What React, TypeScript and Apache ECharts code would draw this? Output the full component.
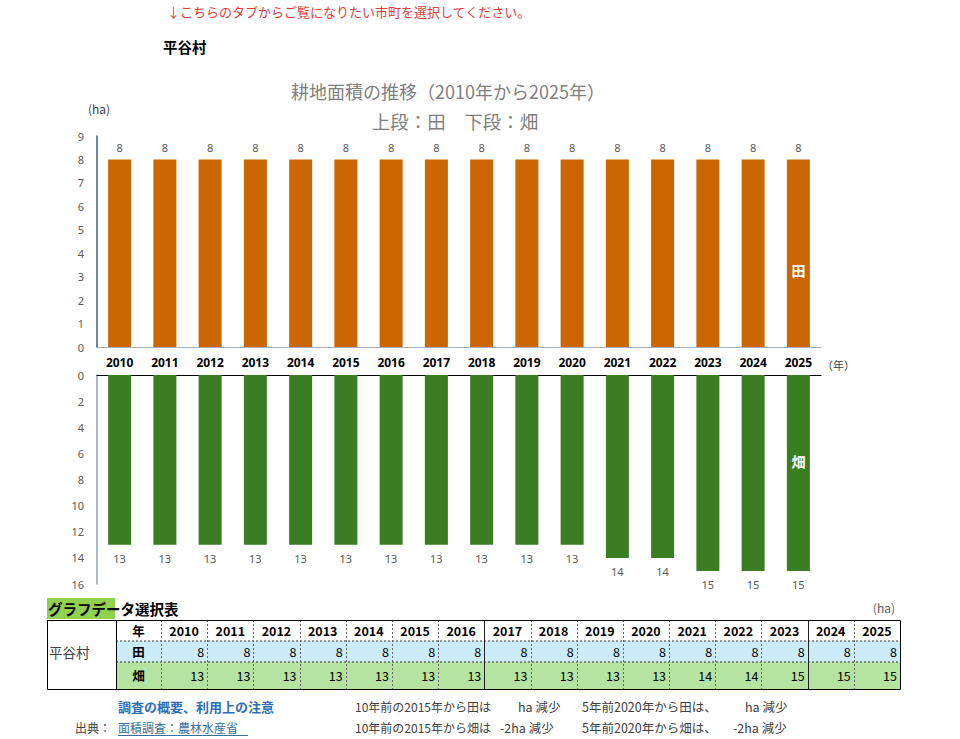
import React, { useEffect, useRef } from 'react';
import * as echarts from 'echarts';

const years = ['2010', '2011', '2012', '2013', '2014', '2015', '2016', '2017', '2018', '2019', '2020', '2021', '2022', '2023', '2024', '2025'];
const paddyHa = [8, 8, 8, 8, 8, 8, 8, 8, 8, 8, 8, 8, 8, 8, 8, 8];
const uplandHa = [13, 13, 13, 13, 13, 13, 13, 13, 13, 13, 13, 14, 14, 15, 15, 15];
const municipality = '平谷村';

const JP = '"Noto Sans CJK JP", "Noto Sans", sans-serif';
const NUM = '"Noto Sans", "Liberation Sans", sans-serif';

function buildTable(): any[] {
  const els: any[] = [];
  const x0 = 47, xLab = 116, xYear = 161, xEnd = 900;
  const rows = [620, 641, 662, 689];
  const cw = (xEnd - xYear) / years.length;
  els.push({ type: 'rect', shape: { x: 47, y: 598, width: 68, height: 21 }, style: { fill: '#92d050' }, silent: true });
  els.push({ type: 'text', x: 48, y: 608, style: { text: 'グラフデータ選択表', font: `bold 14.5px ${JP}`, fill: '#000', verticalAlign: 'middle' } });
  els.push({ type: 'text', x: 895, y: 607, style: { text: '(ha)', font: `12px ${JP}`, fill: '#595959', align: 'right', verticalAlign: 'middle' } });
  els.push({ type: 'rect', shape: { x: xLab, y: rows[1], width: xEnd - xLab, height: rows[2] - rows[1] }, style: { fill: '#ccecfa' }, silent: true });
  els.push({ type: 'rect', shape: { x: xLab, y: rows[2], width: xEnd - xLab, height: rows[3] - rows[2] }, style: { fill: '#b5e3a1' }, silent: true });
  [rows[1], rows[2]].forEach((y) => {
    els.push({ type: 'line', shape: { x1: xLab, y1: y, x2: xEnd, y2: y }, style: { stroke: '#333', lineWidth: 1, lineDash: [2, 2] }, silent: true });
  });
  for (let i = 0; i < years.length; i++) {
    const x = Math.round(xYear + i * cw) + 0.5;
    const solid = i === 7 || i === 14;
    els.push({ type: 'line', shape: { x1: x, y1: rows[0], x2: x, y2: rows[3] }, style: { stroke: solid ? '#222' : '#666', lineWidth: 1, lineDash: solid ? null : [2, 2] }, silent: true });
  }
  els.push({ type: 'line', shape: { x1: xLab + 0.5, y1: rows[0], x2: xLab + 0.5, y2: rows[3] }, style: { stroke: '#000', lineWidth: 1 }, silent: true });
  els.push({ type: 'rect', shape: { x: x0 + 0.5, y: rows[0] + 0.5, width: xEnd - x0, height: rows[3] - rows[0] }, style: { fill: 'none', stroke: '#000', lineWidth: 1 }, silent: true });
  els.push({ type: 'text', x: 49, y: 652, style: { text: municipality, font: `13.5px ${JP}`, fill: '#404040', verticalAlign: 'middle' } });
  const mid = (a: number, b: number) => (a + b) / 2;
  els.push({ type: 'text', x: mid(xLab, xYear), y: mid(rows[0], rows[1]), style: { text: '年', font: `bold 12.5px ${JP}`, fill: '#000', align: 'center', verticalAlign: 'middle' } });
  els.push({ type: 'text', x: mid(xLab, xYear), y: mid(rows[1], rows[2]), style: { text: '田', font: `bold 12.5px ${JP}`, fill: '#000', align: 'center', verticalAlign: 'middle' } });
  els.push({ type: 'text', x: mid(xLab, xYear), y: mid(rows[2], rows[3]), style: { text: '畑', font: `bold 12.5px ${JP}`, fill: '#000', align: 'center', verticalAlign: 'middle' } });
  years.forEach((yr, i) => {
    const l = xYear + i * cw;
    els.push({ type: 'text', x: l + cw / 2, y: mid(rows[0], rows[1]), style: { text: yr, font: `bold 12.5px ${JP}`, fill: '#000', align: 'center', verticalAlign: 'middle' } });
    els.push({ type: 'text', x: l + cw - 3, y: mid(rows[1], rows[2]), style: { text: String(paddyHa[i]), font: `12.5px ${JP}`, fill: '#000', align: 'right', verticalAlign: 'middle' } });
    els.push({ type: 'text', x: l + cw - 3, y: mid(rows[2], rows[3]), style: { text: String(uplandHa[i]), font: `12.5px ${JP}`, fill: '#000', align: 'right', verticalAlign: 'middle' } });
  });
  els.push({ type: 'text', x: 118, y: 706, style: { text: '調査の概要、利用上の注意', font: `bold 13px ${JP}`, fill: '#2f6eb5', verticalAlign: 'middle' } });
  els.push({ type: 'text', x: 75, y: 727, style: { text: '出典：', font: `12px ${JP}`, fill: '#404040', verticalAlign: 'middle' } });
  els.push({ type: 'text', x: 118, y: 727, style: { text: '面積調査：農林水産省', font: `12px ${JP}`, fill: '#3a6f9a', verticalAlign: 'middle' } });
  els.push({ type: 'line', shape: { x1: 118, y1: 735.5, x2: 248, y2: 735.5 }, style: { stroke: '#3a6f9a', lineWidth: 1 }, silent: true });
  const notes: [string, number, number, number][] = [
    ['10年前の2015年から田は', 355, 706, 12],
    ['ha 減少', 518, 706, 12.5],
    ['5年前2020年から田は、', 582, 706, 12.5],
    ['ha 減少', 745, 706, 12.5],
    ['10年前の2015年から畑は', 355, 727, 12],
    ['-2ha 減少', 500, 727, 12.5],
    ['5年前2020年から畑は、', 582, 727, 12.5],
    ['-2ha 減少', 733, 727, 12.5],
  ];
  notes.forEach(([t, x, y, fs]) => els.push({ type: 'text', x, y, style: { text: t, font: `${fs}px ${JP}`, fill: '#404040', verticalAlign: 'middle' } }));
  return els;
}

export default function App() {
  const ref = useRef<HTMLDivElement>(null);
  useEffect(() => {
    const chart = echarts.init(ref.current!, null, { renderer: 'svg' });
    const graphic: any[] = [
      { type: 'text', x: 167, y: 11, style: { text: '↓こちらのタブからご覧になりたい市町を選択してください。', font: `13px ${JP}`, fill: '#e03c3c', verticalAlign: 'middle' } },
      { type: 'text', x: 163, y: 46, style: { text: municipality, font: `bold 14.5px ${JP}`, fill: '#000', verticalAlign: 'middle' } },
      { type: 'text', x: 448, y: 91, style: { text: '耕地面積の推移（2010年から2025年）', font: `18px ${JP}`, fill: '#7f7f7f', align: 'center', verticalAlign: 'middle' } },
      { type: 'text', x: 455, y: 121, style: { text: '上段：田　下段：畑', font: `18.5px ${JP}`, fill: '#7f7f7f', align: 'center', verticalAlign: 'middle' } },
      { type: 'text', x: 99, y: 108, style: { text: '(ha)', font: `12px ${JP}`, fill: '#404040', align: 'center', verticalAlign: 'middle' } },
      { type: 'text', x: 822, y: 365, style: { text: '（年）', font: `11px ${JP}`, fill: '#404040', verticalAlign: 'middle' } },
      ...buildTable(),
    ];
    const option: any = {
      animation: false,
      backgroundColor: '#fff',
      graphic,
      grid: [
        { left: 97, top: 136, width: 724, height: 211 },
        { left: 97, top: 375, width: 724, height: 209 },
      ],
      xAxis: [
        {
          type: 'category', gridIndex: 0, data: years,
          axisLine: { lineStyle: { color: '#a5b0bb', width: 1 } }, axisTick: { show: false },
          axisLabel: { color: '#000', fontWeight: 'bold', fontSize: 12, fontFamily: NUM, margin: 9 },
        },
        {
          type: 'category', gridIndex: 1, data: years, position: 'top',
          axisLine: { lineStyle: { color: '#000', width: 1 } }, axisTick: { show: false },
          axisLabel: { show: false },
        },
      ],
      yAxis: [
        {
          type: 'value', gridIndex: 0, min: 0, max: 9, interval: 1,
          axisLine: { show: true, lineStyle: { color: '#3f5f7a', width: 1.5 } }, axisTick: { show: false },
          splitLine: { show: false },
          axisLabel: { color: '#595959', fontSize: 11, fontFamily: NUM, margin: 13 },
        },
        {
          type: 'value', gridIndex: 1, min: 0, max: 16, interval: 2, inverse: true,
          axisLine: { show: true, lineStyle: { color: '#8da2b3', width: 1.5 } }, axisTick: { show: false },
          splitLine: { show: false },
          axisLabel: { color: '#595959', fontSize: 11, fontFamily: NUM, margin: 13 },
        },
      ],
      series: [
        {
          name: '田', type: 'bar', xAxisIndex: 0, yAxisIndex: 0, data: paddyHa, barWidth: 23,
          itemStyle: { color: '#cc6600' },
          label: { show: true, position: 'top', distance: 6, color: '#595959', fontSize: 11, fontFamily: NUM },
          markPoint: {
            symbol: 'rect', symbolSize: 1, itemStyle: { color: 'rgba(0,0,0,0)' },
            label: { show: true, formatter: '田', color: '#fff', fontWeight: 'bold', fontSize: 14, fontFamily: JP, position: 'inside' },
            data: [{ coord: ['2025', 3.3] }],
          },
        },
        {
          name: '畑', type: 'bar', xAxisIndex: 1, yAxisIndex: 1, data: uplandHa, barWidth: 23,
          itemStyle: { color: '#3a7d22' },
          label: { show: true, position: 'bottom', distance: 8, color: '#595959', fontSize: 11, fontFamily: NUM },
          markPoint: {
            symbol: 'rect', symbolSize: 1, itemStyle: { color: 'rgba(0,0,0,0)' },
            label: { show: true, formatter: '畑', color: '#fff', fontWeight: 'bold', fontSize: 14, fontFamily: JP, position: 'inside' },
            data: [{ coord: ['2025', 6.6] }],
          },
        },
      ],
    };
    chart.setOption(option);
    return () => chart.dispose();
  }, []);
  return <div ref={ref} style={{ position: 'fixed', left: 0, top: 0, width: 960, height: 739, background: '#fff' }} />;
}
